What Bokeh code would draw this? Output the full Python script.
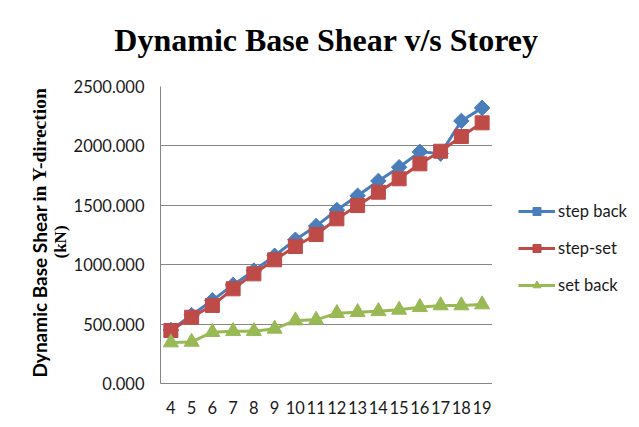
from bokeh.plotting import figure
from bokeh.models import (Range1d, FixedTicker, PrintfTickFormatter, Label, Legend, LegendItem)
from bokeh.layouts import column, row
from bokeh.embed import file_html
from bokeh.resources import INLINE
import math

storeys = [4, 5, 6, 7, 8, 9, 10, 11, 12, 13, 14, 15, 16, 17, 18, 19]
step_back = [450, 575, 700, 830, 950, 1075, 1210, 1325, 1460, 1580, 1705, 1820, 1950, 1935, 2210, 2320]
step_set = [446, 558, 657, 797, 923, 1041, 1153, 1254, 1386, 1498, 1610, 1723, 1849, 1955, 2079, 2194]
set_back = [345, 350, 432, 440, 440, 460, 530, 536, 592, 600, 608, 620, 642, 657, 657, 665]
y_ticks = [0, 500, 1000, 1500, 2000, 2500]
series_names = ["step back", "step-set", "set back"]

title_text = "Dynamic Base Shear v/s Storey"
ylab1 = "Dynamic Base Shear"
ylab2 = "in Y-direction"
ylab3 = "(kN)"

SANS = "Lato"
SERIF = "Liberation Serif"
TEXT = "#1a1a1a"
blue, red, green = "#4A7EBB", "#BE4B48", "#98B954"

# page geometry (pixels)
W, H = 639, 427
TOP = 66            # title strip height
LEFT = 70           # y-label strip width
PLOT_L, PLOT_R = 160, 492
PLOT_T, PLOT_B = 86, 383
ROW_H = H - TOP
BT = PLOT_T - TOP
BB = H - PLOT_B

y_range = Range1d(0, 2500)


def yd(py):
    # pixel row -> data value (used only to place texts)
    return (PLOT_B - py) * 2500 / (PLOT_B - PLOT_T)


def strip(width, height, x_range, y_rng, top=0, bottom=0):
    f = figure(width=width, height=height, x_range=x_range, y_range=y_rng,
               x_axis_type=None, y_axis_type=None, output_backend="svg",
               toolbar_location=None, title=None, min_border_left=0, min_border_right=0,
               min_border_top=top, min_border_bottom=bottom)
    f.outline_line_color = None
    f.grid.visible = False
    return f


# ---- title strip
tf = strip(W, TOP, Range1d(0, W), Range1d(0, TOP))
tf.add_layout(Label(x=326, y=TOP - 39, text=title_text, text_align="center",
                    text_baseline="middle", text_font=SERIF, text_font_style="bold",
                    text_font_size="32px", text_color="black"))

# ---- y-axis title strip
lf = strip(LEFT, ROW_H, Range1d(0, LEFT), y_range, BT, BB)
lf.add_layout(Label(x=38.5, y=yd(377), text=ylab1, angle=math.pi / 2, text_align="left",
                    text_baseline="middle", text_font=SANS, text_font_style="bold",
                    text_font_size="19px", text_color="black"))
lf.add_layout(Label(x=38.5, y=yd(87), text=ylab2, angle=math.pi / 2, text_align="right",
                    text_baseline="middle", text_font=SERIF, text_font_style="bold",
                    text_font_size="19.5px", text_color="black"))
lf.add_layout(Label(x=60, y=yd(258), text=ylab3, angle=math.pi / 2, text_align="left",
                    text_baseline="middle", text_font=SERIF, text_font_style="bold",
                    text_font_size="17px", text_color="black"))

# ---- main chart
p = figure(width=PLOT_R - LEFT, height=ROW_H, x_range=Range1d(3.5, 19.5), y_range=y_range,
           output_backend="svg", toolbar_location=None, title=None,
           min_border_left=PLOT_L - LEFT, min_border_right=0, min_border_top=BT, min_border_bottom=BB)
p.outline_line_color = None
p.xgrid.grid_line_color = None
p.ygrid.grid_line_color = "#868686"
p.ygrid.grid_line_width = 1
p.ygrid.ticker = FixedTicker(ticks=y_ticks)

p.xaxis.ticker = FixedTicker(ticks=storeys)
p.yaxis.ticker = FixedTicker(ticks=y_ticks)
p.yaxis.formatter = PrintfTickFormatter(format="%.3f")
for ax in (p.xaxis[0], p.yaxis[0]):
    ax.axis_line_color = "#868686"
    ax.major_tick_line_color = None
    ax.minor_tick_line_color = None
    ax.major_tick_out = 0
    ax.major_tick_in = 0
    ax.major_label_text_font = SANS
    ax.major_label_text_font_size = "16.5px"
    ax.major_label_text_color = TEXT
p.xaxis.major_label_standoff = 17
p.yaxis.major_label_standoff = 16

styles = [dict(color=blue, marker="square", angle=math.pi / 4, size=11),
          dict(color=red, marker="square", angle=0, size=14),
          dict(color=green, marker="triangle", angle=0, size=15)]
for vals, st in zip([step_back, step_set, set_back], styles):
    p.line(storeys, vals, line_color=st["color"], line_width=3)
    p.scatter(storeys, vals, marker=st["marker"], angle=st["angle"], size=st["size"],
              fill_color=st["color"], line_color=st["color"])

# ---- legend strip (legend samples use the same styles; their renderers hold no visible data)
lg = strip(W - PLOT_R, ROW_H, Range1d(0, W - PLOT_R), y_range, BT, BB)
nan = float("nan")
items = []
for name, st in zip(series_names, styles):
    ln = lg.line(x=[nan], y=[nan], line_color=st["color"], line_width=3)
    mk = lg.scatter(x=[nan], y=[nan], marker=st["marker"], angle=st["angle"], size=st["size"],
                    fill_color=st["color"], line_color=st["color"])
    items.append(LegendItem(label=name, renderers=[ln, mk]))
legend = Legend(items=items, location=(26, 88), orientation="vertical",
                glyph_width=37, glyph_height=20, spacing=17, label_standoff=3,
                padding=0, margin=0, border_line_color=None, background_fill_alpha=0,
                label_text_font=SANS, label_text_font_size="16.5px", label_text_color=TEXT)
lg.add_layout(legend)

layout = column(tf, row(lf, p, lg, spacing=0), spacing=0)
open("out.html", "w").write(file_html(layout, INLINE))
